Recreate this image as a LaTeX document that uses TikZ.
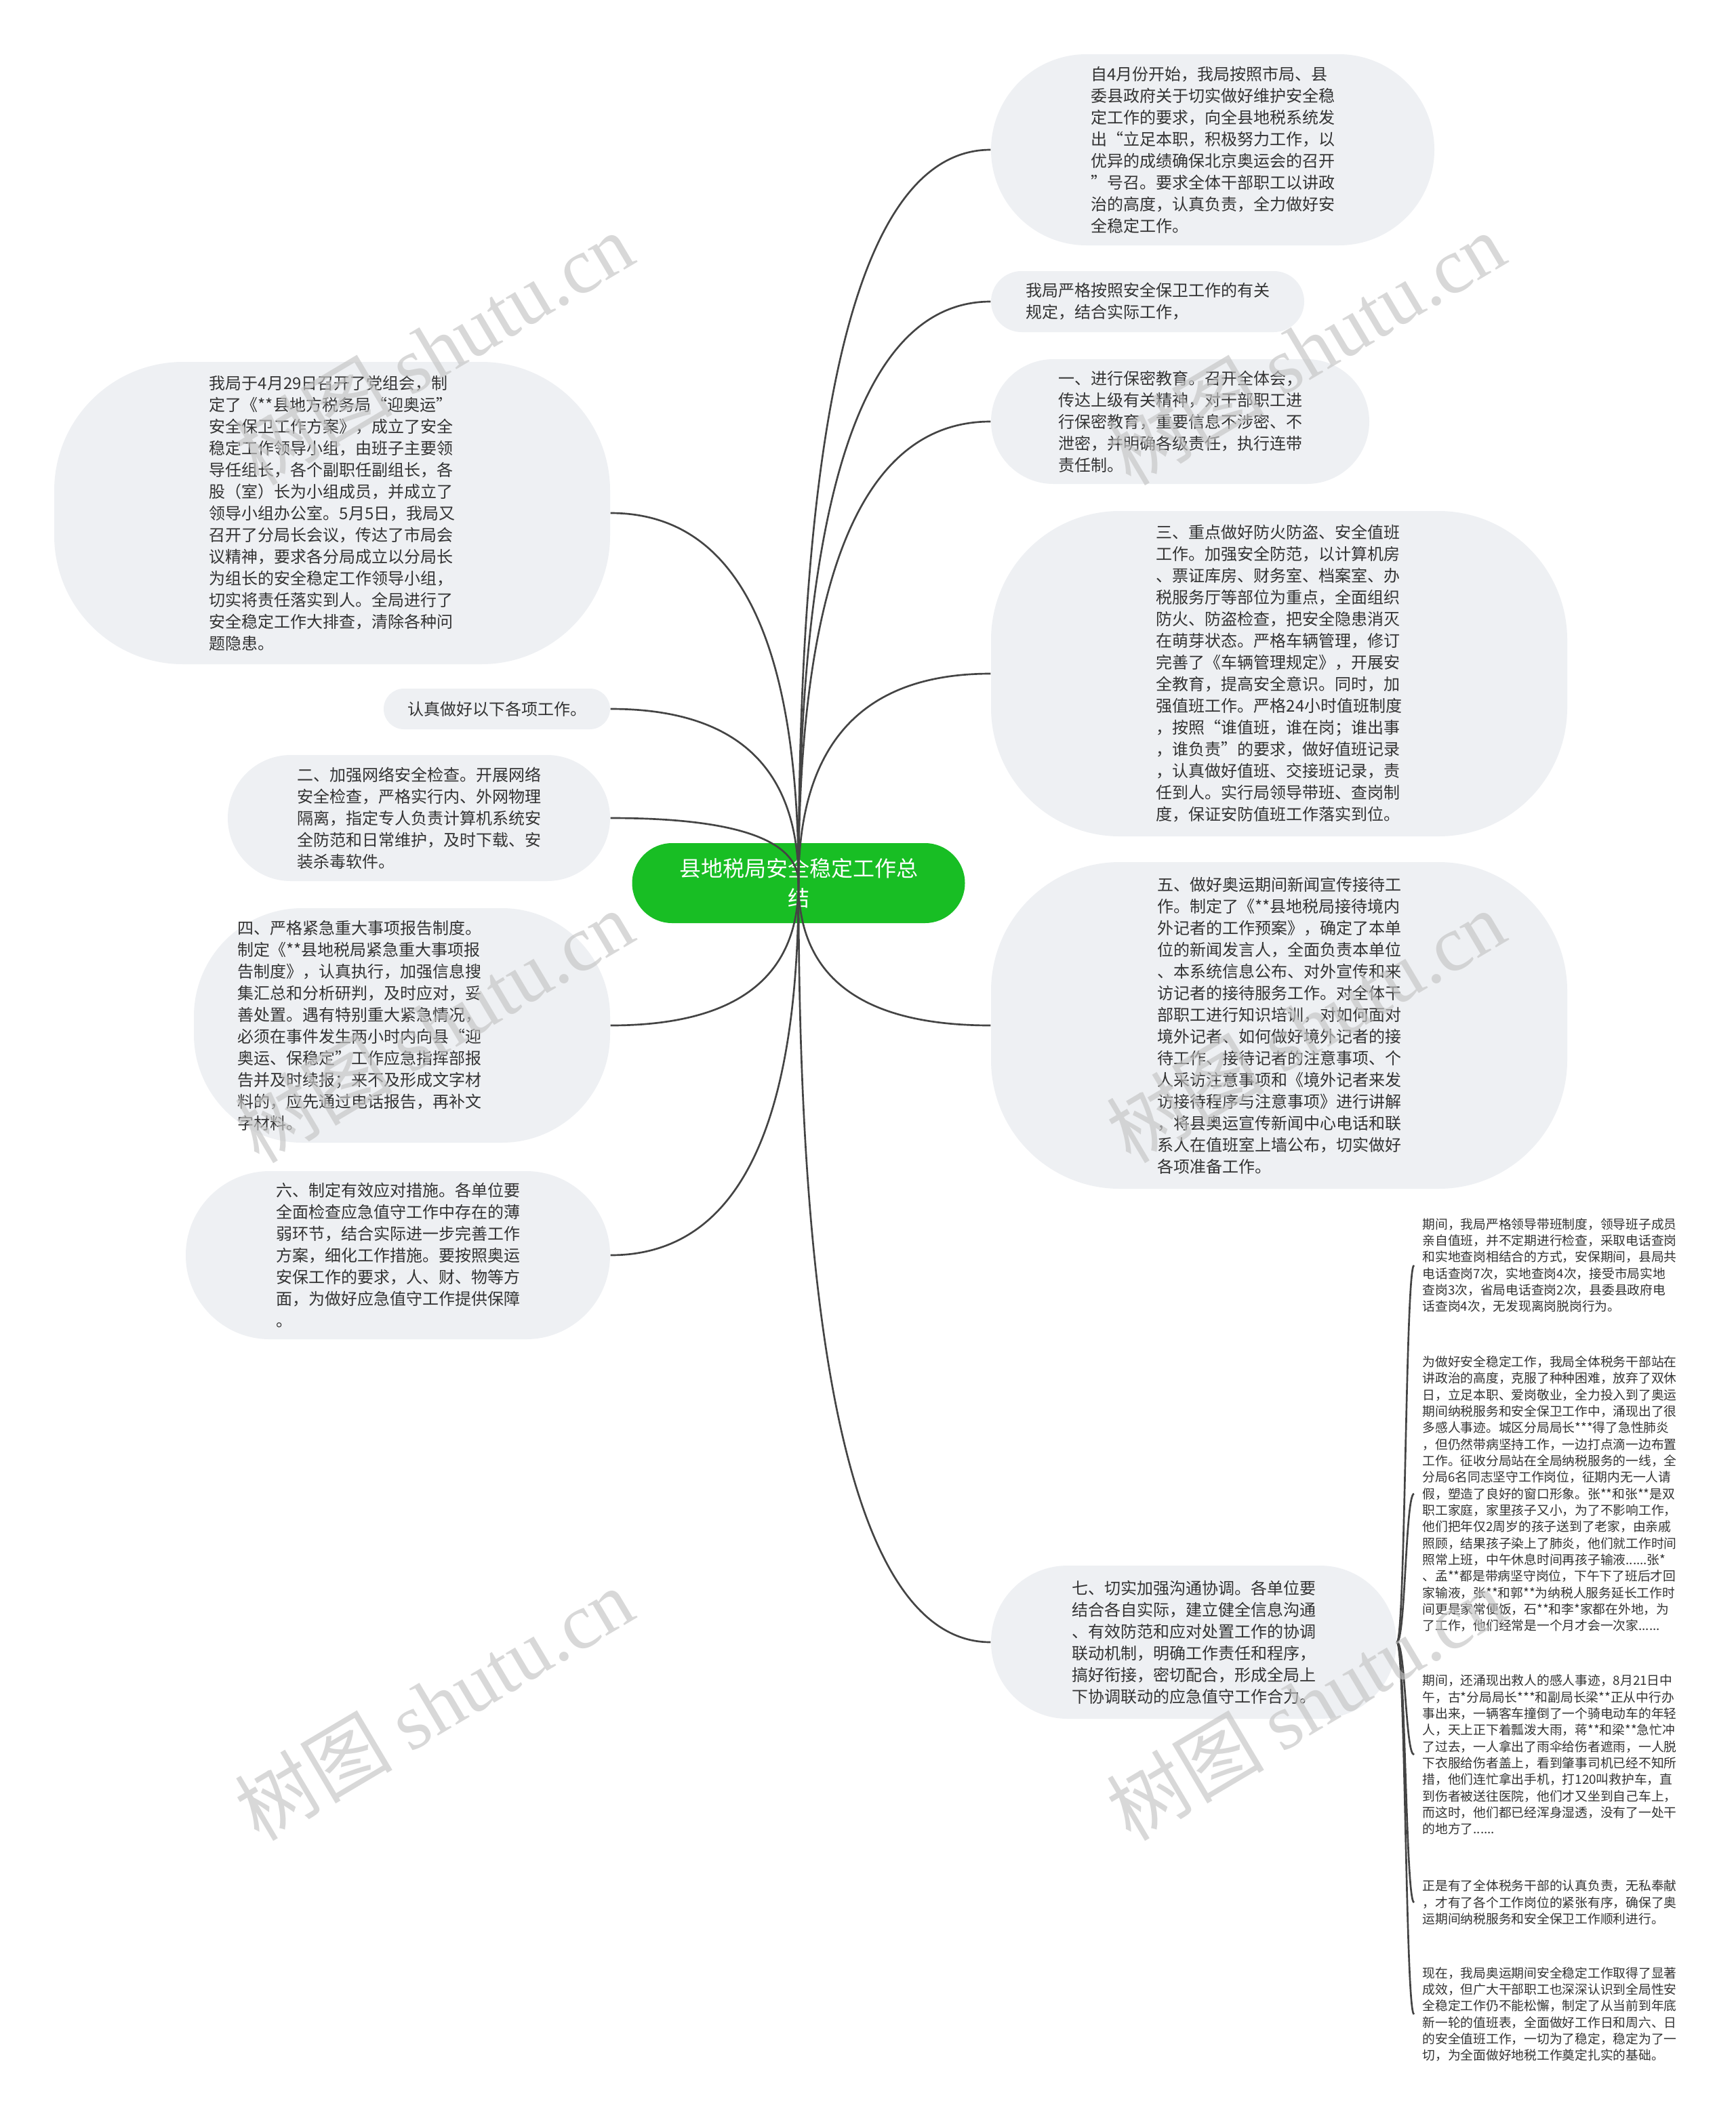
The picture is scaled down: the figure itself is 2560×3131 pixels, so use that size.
\documentclass[tikz,border=0pt]{standalone}
\usepackage{fontspec}
\newfontfamily\cjk{Noto Sans CJK SC}
\newfontfamily\wmserif{Liberation Serif}
\usetikzlibrary{calc}
\definecolor{bubble}{HTML}{EEF0F3}
\definecolor{rootgreen}{HTML}{18BE24}
\definecolor{txt}{HTML}{333333}
\definecolor{linkc}{HTML}{444444}
\definecolor{wm}{HTML}{C4C4C4}
\newcommand\mmlink[2]{\draw[link] (#1) .. controls ($(#1)!0.6667!(#1|-#2)$) and ($(#2)!0.6667!(#1|-#2)$) .. (#2);}
\newcommand\sublink[2]{\draw[link] (#1) .. controls ($(#1)!0.5!(#1-|#2)$) and ($(#2)!0.5!(#2-|#1)$) .. (#2);}
\begin{document}
\begin{tikzpicture}[x=0.3pt,y=-0.3pt,
  bub/.style={fill=bubble, draw=none, align=left, text=txt, inner sep=0pt,
    font=\cjk\fontsize{7.2}{9.6}\selectfont},
  rootbox/.style={fill=rootgreen, draw=none, align=center, text=white, inner sep=0pt,
    font=\cjk\fontsize{9.6}{13.2}\selectfont},
  small/.style={align=left, text=txt, anchor=west, inner xsep=3.6pt, inner ysep=2pt,
    font=\cjk\fontsize{5.625}{7.3}\selectfont},
  link/.style={draw=linkc, line width=0.8pt},
  wmark/.style={text=wm, opacity=0.65, rotate=30.7, inner sep=0pt}
]
\useasboundingbox (0,0) rectangle (2560,3131);
\fill[white] (0,0) rectangle (2560,3131);

% root
\node[rootbox, minimum width=147.3pt, minimum height=35.4pt, rounded corners=17.7pt] (root) at (1178,1303)
  {县地税局安全稳定工作总\\结};

% right side
\node[bub, minimum width=196.2pt, minimum height=84.6pt, rounded corners=42.3pt] (r1) at (1789,221)
  {自4月份开始，我局按照市局、县\\委县政府关于切实做好维护安全稳\\定工作的要求，向全县地税系统发\\出“立足本职，积极努力工作，以\\优异的成绩确保北京奥运会的召开\\”号召。要求全体干部职工以讲政\\治的高度，认真负责，全力做好安\\全稳定工作。};
\node[bub, minimum width=138.6pt, minimum height=27pt, rounded corners=13.5pt] (r2) at (1693,445)
  {我局严格按照安全保卫工作的有关\\规定，结合实际工作，};
\node[bub, minimum width=167.4pt, minimum height=55.2pt, rounded corners=27.6pt] (r3) at (1741,622)
  {一、进行保密教育。召开全体会，\\传达上级有关精神，对干部职工进\\行保密教育，重要信息不涉密、不\\泄密，并明确各级责任，执行连带\\责任制。};
\node[bub, minimum width=255pt, minimum height=144pt, rounded corners=57pt] (r4) at (1887,994)
  {三、重点做好防火防盗、安全值班\\工作。加强安全防范，以计算机房\\、票证库房、财务室、档案室、办\\税服务厅等部位为重点，全面组织\\防火、防盗检查，把安全隐患消灭\\在萌芽状态。严格车辆管理，修订\\完善了《车辆管理规定》，开展安\\全教育，提高安全意识。同时，加\\强值班工作。严格24小时值班制度\\，按照“谁值班，谁在岗；谁出事\\，谁负责”的要求，做好值班记录\\，认真做好值班、交接班记录，责\\任到人。实行局领导带班、查岗制\\度，保证安防值班工作落实到位。};
\node[bub, minimum width=255pt, minimum height=144.6pt, rounded corners=57pt] (r5) at (1887,1513)
  {五、做好奥运期间新闻宣传接待工\\作。制定了《**县地税局接待境内\\外记者的工作预案》，确定了本单\\位的新闻发言人，全面负责本单位\\、本系统信息公布、对外宣传和来\\访记者的接待服务工作。对全体干\\部职工进行知识培训，对如何面对\\境外记者、如何做好境外记者的接\\待工作、接待记者的注意事项、个\\人采访注意事项和《境外记者来发\\访接待程序与注意事项》进行讲解\\，将县奥运宣传新闻中心电话和联\\系人在值班室上墙公布，切实做好\\各项准备工作。};
\node[bub, minimum width=179.4pt, minimum height=67.8pt, rounded corners=33.9pt] (r6) at (1761,2423)
  {七、切实加强沟通协调。各单位要\\结合各自实际，建立健全信息沟通\\、有效防范和应对处置工作的协调\\联动机制，明确工作责任和程序，\\搞好衔接，密切配合，形成全局上\\下协调联动的应急值守工作合力。};

% left side
\node[bub, minimum width=246pt, minimum height=133.8pt, rounded corners=57pt] (l1) at (490,757)
  {我局于4月29日召开了党组会，制\\定了《**县地方税务局“迎奥运”\\安全保卫工作方案》，成立了安全\\稳定工作领导小组，由班子主要领\\导任组长，各个副职任副组长，各\\股（室）长为小组成员，并成立了\\领导小组办公室。5月5日，我局又\\召开了分局长会议，传达了市局会\\议精神，要求各分局成立以分局长\\为组长的安全稳定工作领导小组，\\切实将责任落实到人。全局进行了\\安全稳定工作大排查，清除各种问\\题隐患。};
\node[bub, minimum width=100.2pt, minimum height=18pt, rounded corners=9pt] (l2) at (733,1046)
  {认真做好以下各项工作。};
\node[bub, minimum width=169.2pt, minimum height=55.8pt, rounded corners=27.9pt] (l3) at (618,1207)
  {二、加强网络安全检查。开展网络\\安全检查，严格实行内、外网物理\\隔离，指定专人负责计算机系统安\\全防范和日常维护，及时下载、安\\装杀毒软件。};
\node[bub, minimum width=184.2pt, minimum height=103.8pt, rounded corners=48pt] (l4) at (593,1513)
  {四、严格紧急重大事项报告制度。\hspace*{37.8pt}\\制定《**县地税局紧急重大事项报\\告制度》，认真执行，加强信息搜\\集汇总和分析研判，及时应对，妥\\善处置。遇有特别重大紧急情况，\\必须在事件发生两小时内向县“迎\\奥运、保稳定”工作应急指挥部报\\告并及时续报；来不及形成文字材\\料的，应先通过电话报告，再补文\\字材料。};
\node[bub, minimum width=187.8pt, minimum height=74.4pt, rounded corners=37.2pt] (l5) at (587,1852)
  {六、制定有效应对措施。各单位要\\全面检查应急值守工作中存在的薄\\弱环节，结合实际进一步完善工作\\方案，细化工作措施。要按照奥运\\安保工作的要求，人、财、物等方\\面，为做好应急值守工作提供保障\\。};

% small leaves of r6
\node[small] (s1) at (2086,1867)
  {期间，我局严格领导带班制度，领导班子成员\\亲自值班，并不定期进行检查，采取电话查岗\\和实地查岗相结合的方式，安保期间，县局共\\电话查岗7次，实地查岗4次，接受市局实地\\查岗3次，省局电话查岗2次，县委县政府电\\话查岗4次，无发现离岗脱岗行为。};
\node[small] (s2) at (2086,2204)
  {为做好安全稳定工作，我局全体税务干部站在\\讲政治的高度，克服了种种困难，放弃了双休\\日，立足本职、爱岗敬业，全力投入到了奥运\\期间纳税服务和安全保卫工作中，涌现出了很\\多感人事迹。城区分局局长***得了急性肺炎\\，但仍然带病坚持工作，一边打点滴一边布置\\工作。征收分局站在全局纳税服务的一线，全\\分局6名同志坚守工作岗位，征期内无一人请\\假，塑造了良好的窗口形象。张**和张**是双\\职工家庭，家里孩子又小，为了不影响工作，\\他们把年仅2周岁的孩子送到了老家，由亲戚\\照顾，结果孩子染上了肺炎，他们就工作时间\\照常上班，中午休息时间再孩子输液......张*\\、孟**都是带病坚守岗位，下午下了班后才回\\家输液，张**和郭**为纳税人服务延长工作时\\间更是家常便饭，石**和李*家都在外地，为\\了工作，他们经常是一个月才会一次家......};
\node[small] (s3) at (2086,2589)
  {期间，还涌现出救人的感人事迹，8月21日中\\午，古*分局局长***和副局长梁**正从中行办\\事出来，一辆客车撞倒了一个骑电动车的年轻\\人，天上正下着瓢泼大雨，蒋**和梁**急忙冲\\了过去，一人拿出了雨伞给伤者遮雨，一人脱\\下衣服给伤者盖上，看到肇事司机已经不知所\\措，他们连忙拿出手机，打120叫救护车，直\\到伤者被送往医院，他们才又坐到自己车上，\\而这时，他们都已经浑身湿透，没有了一处干\\的地方了......};
\node[small] (s4) at (2086,2807)
  {正是有了全体税务干部的认真负责，无私奉献\\，才有了各个工作岗位的紧张有序，确保了奥\\运期间纳税服务和安全保卫工作顺利进行。};
\node[small] (s5) at (2086,2972)
  {现在，我局奥运期间安全稳定工作取得了显著\\成效，但广大干部职工也深深认识到全局性安\\全稳定工作仍不能松懈，制定了从当前到年底\\新一轮的值班表，全面做好工作日和周六、日\\的安全值班工作，一切为了稳定，稳定为了一\\切，为全面做好地税工作奠定扎实的基础。};

% connectors
\mmlink{root.center}{r1.west}
\mmlink{root.center}{r2.west}
\mmlink{root.center}{r3.west}
\mmlink{root.center}{r4.west}
\mmlink{root.center}{r5.west}
\mmlink{root.center}{r6.west}
\mmlink{root.center}{l1.east}
\mmlink{root.center}{l2.east}
\mmlink{root.center}{l3.east}
\mmlink{root.center}{l4.east}
\mmlink{root.center}{l5.east}
\sublink{r6.east}{s1.west}
\sublink{r6.east}{s2.west}
\sublink{r6.east}{s3.west}
\sublink{r6.east}{s4.west}
\sublink{r6.east}{s5.west}

% watermarks
\foreach \wx/\wy [count=\i] in {640/514, 1926/514, 640/1514, 1926/1514, 640/2514, 1926/2514}
  \node[wmark] (wm\i) at (\wx,\wy) {\cjk\fontsize{35}{37}\selectfont 树图 {\wmserif shutu.cn}};
\end{tikzpicture}
\end{document}
